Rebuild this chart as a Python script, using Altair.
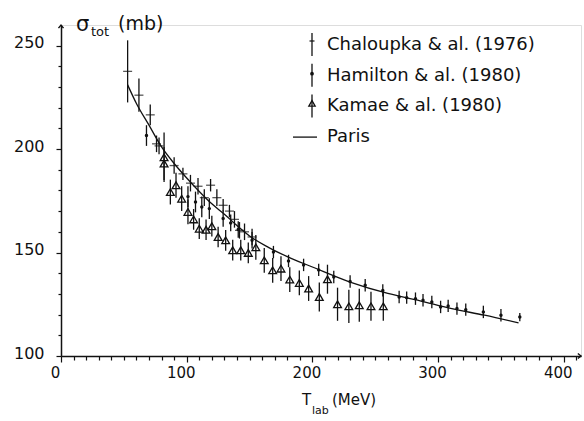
import altair as alt
import pandas as pd

# ---------------- data ----------------
# Chaloupka & al. (1976): T_lab (MeV), sigma_tot (mb), error (mb)
ch_T = [53, 62, 71, 76, 78, 90, 97, 103, 109, 114, 119, 124, 129, 134, 138, 142, 146, 152]
ch_s = [237.5, 226, 216.5, 202.5, 201.5, 192, 188, 183.5, 182, 176.5, 182.5, 176.5, 172.8, 170, 166, 160.7, 160, 157.5]
ch_e = [15, 8, 5, 4, 4, 4, 3, 4, 4, 4, 3, 4, 3, 3, 4, 4, 4, 4]

# Hamilton & al. (1980)
ham_T = [68, 101, 107, 112, 118, 129, 135, 141, 152, 169, 181, 193, 205, 217, 230, 242, 256,
         269, 275, 282, 288, 295, 302, 308, 315, 322, 336, 350, 365]
ham_s = [206.5, 177, 174.4, 172, 171.2, 166.4, 164.3, 161.1, 155.9, 150.2, 145.9, 144, 141.6, 138.2,
         136, 134.2, 131.7, 128.5, 128.2, 127.7, 126.9, 126.1, 123.7, 124.2, 122.9, 122.4, 121.3, 119.7, 118.8]
ham_e = [5, 5, 5, 5, 5, 4, 4, 4, 4, 3, 3, 3, 3, 3, 3, 3, 3, 3, 3, 3, 3, 3, 3, 3, 3, 3, 3, 3, 2]

# Kamae & al. (1980)
ka_T = [82, 82, 87, 91.5, 96, 101, 105.5, 110, 115.4, 120, 125, 131, 136.6, 143, 149, 155, 161.7,
        168.4, 175, 182, 189.6, 197, 205.5, 212, 220, 229, 237.3, 246.6, 256.4]
ka_s = [196, 193, 179.2, 182.5, 176, 169.6, 166, 161.5, 161, 162.7, 157.5, 155.9, 151.1, 151.1, 149.8,
        152.5, 146.2, 141.4, 142.2, 136.9, 135.3, 132.6, 128.5, 137.1, 125, 124, 124.5, 124, 124]
ka_e = [12, 8, 6, 6, 6, 6, 5, 5, 5, 5, 5, 5, 5, 5, 5, 6, 6, 6, 6, 6, 6, 6, 7, 7, 8, 8, 8, 7, 7]

# Paris potential
pa_T = [53, 60, 70, 80, 90, 100, 110, 120, 130, 140, 150, 165, 180, 200, 230, 260, 285, 310, 337, 364]
pa_s = [231, 222, 211.5, 201, 193, 186, 179.5, 173.5, 168.5, 163, 158, 152.5, 148, 143, 135.7, 130.2,
        126.8, 123, 119.7, 116]

legend_labels = ["Chaloupka & al. (1976)", "Hamilton & al. (1980)", "Kamae & al. (1980)", "Paris"]

x_ticks = list(range(0, 411, 10))
y_ticks = list(range(100, 251, 10))

# ---------------- layout ----------------
PL, PT, PR, PB = 61, 25, 3, 65
W, H = 584 - PL - PR, 421 - PT - PB
FONT = "DejaVu Sans"
INK = "#111111"

def px(v):
    return v - PL

def py(v):
    return v - PT

xs = alt.Scale(domain=[0, W / 1.257], nice=False, zero=False)
ys = alt.Scale(domain=[100, 100 + H / 2.07], nice=False, zero=False)

xaxis = alt.Axis(
    values=x_ticks, title=None, grid=False,
    labelExpr="datum.value % 100 === 0 ? datum.label : ''",
    tickSize={"condition": {"test": "datum.value % 100 === 0", "value": 6}, "value": 4},
    labelFont=FONT, labelFontSize=15, labelColor=INK, labelPadding=3, labelOffset=-6,
    domainColor=INK, domainWidth=1.5, tickColor=INK, tickWidth=1.2, labelFlush=False,
)
yaxis = alt.Axis(
    values=y_ticks, title=None, grid=False,
    labelExpr="datum.value % 50 === 0 ? datum.label : ''",
    tickSize={"condition": {"test": "datum.value % 50 === 0", "value": 5}, "value": 3},
    labelFont=FONT, labelFontSize=16, labelColor=INK, labelPadding=12, labelOffset=-3,
    domainColor=INK, domainWidth=1.5, tickColor=INK, tickWidth=1.2, labelFlush=False,
)

def X(f="T"):
    return alt.X(f"{f}:Q", scale=xs, axis=xaxis)

def Y(f="s"):
    return alt.Y(f"{f}:Q", scale=ys, axis=yaxis)

ch = pd.DataFrame({"T": ch_T, "s": ch_s, "e": ch_e})
ham = pd.DataFrame({"T": ham_T, "s": ham_s, "e": ham_e})
ka = pd.DataFrame({"T": ka_T, "s": ka_s, "e": ka_e})
pa = pd.DataFrame({"T": pa_T, "s": pa_s})
for d in (ch, ham, ka):
    d["lo"] = d["s"] - d["e"]
    d["hi"] = d["s"] + d["e"]

layers = []
layers.append(alt.Chart(pa).mark_line(color=INK, strokeWidth=1.3, interpolate="monotone")
              .encode(x=X(), y=Y()))
for d in (ch, ham, ka):
    layers.append(alt.Chart(d).mark_rule(color=INK, strokeWidth=1.3)
                  .encode(x=X(), y=Y("lo"), y2="hi:Q"))
layers.append(alt.Chart(ch).mark_tick(orient="horizontal", color=INK, size=9, thickness=1.3)
              .encode(x=X(), y=Y()))
layers.append(alt.Chart(ham).mark_circle(color=INK, size=12, opacity=1)
              .encode(x=X(), y=Y()))
layers.append(alt.Chart(ka).mark_point(shape="triangle-up", filled=False, color=INK, size=60,
                                       strokeWidth=1.3, opacity=1)
              .encode(x=X(), y=Y()))

one = pd.DataFrame({"a": [0]})
# axis arrow heads
layers.append(alt.Chart(one).mark_point(shape="M-1,-0.8L0,0L-1,0.8", filled=False, color=INK,
                                        size=40, strokeWidth=1.4, opacity=1)
              .encode(x=alt.value(W), y=alt.value(H)))
layers.append(alt.Chart(one).mark_point(shape="M-0.8,1L0,0L0.8,1", filled=False, color=INK,
                                        size=40, strokeWidth=1.4, opacity=1)
              .encode(x=alt.value(0), y=alt.value(0)))

# ---------------- legend ----------------
LX_SYM, LX_TXT, LY0, LDY = 312, 327, 45, 30.7
for i, lab in enumerate(legend_labels):
    cy = LY0 + i * LDY
    layers.append(alt.Chart(pd.DataFrame({"t": [lab]})).mark_text(
        align="left", baseline="middle", font=FONT, fontSize=18, color=INK)
        .encode(x=alt.value(px(LX_TXT)), y=alt.value(py(cy)), text="t:N"))
    if i < 3:
        layers.append(alt.Chart(one).mark_rule(color=INK, strokeWidth=1.3)
                      .encode(x=alt.value(px(LX_SYM)), y=alt.value(py(cy - 12)),
                              y2=alt.value(py(cy + 11))))
    if i == 0:
        layers.append(alt.Chart(one).mark_rule(color=INK, strokeWidth=1.2)
                      .encode(x=alt.value(px(LX_SYM - 2.5)), x2=alt.value(px(LX_SYM + 2.5)),
                              y=alt.value(py(cy - 4))))
    elif i == 1:
        layers.append(alt.Chart(one).mark_circle(color=INK, size=14, opacity=1)
                      .encode(x=alt.value(px(LX_SYM)), y=alt.value(py(cy - 2))))
    elif i == 2:
        layers.append(alt.Chart(one).mark_point(shape="triangle-up", filled=False, color=INK,
                                                size=40, strokeWidth=1.3, opacity=1)
                      .encode(x=alt.value(px(LX_SYM)), y=alt.value(py(cy - 3))))
    else:
        layers.append(alt.Chart(one).mark_rule(color=INK, strokeWidth=1.3)
                      .encode(x=alt.value(px(293)), x2=alt.value(px(317)), y=alt.value(py(cy))))

# ---------------- axis titles ----------------
def txt(s, x, y, size, align="left"):
    return (alt.Chart(pd.DataFrame({"t": [s]}))
            .mark_text(align=align, baseline="middle", font=FONT, fontSize=size, color=INK)
            .encode(x=alt.value(px(x)), y=alt.value(py(y)), text="t:N"))

layers.append(txt("σ", 76, 25, 21))
layers.append(txt("tot", 91, 32, 13))
layers.append(txt("(mb)", 118, 24, 19))
layers.append(txt("T", 302, 400, 15))
layers.append(txt("lab", 312, 411, 11))
layers.append(txt("(MeV)", 332, 400, 15))

chart = (alt.layer(*layers)
         .properties(width=W, height=H, autosize="none",
                     padding={"left": PL, "top": PT, "right": PR, "bottom": PB})
         .configure_view(stroke=None)
         .configure(background="white"))

chart.save("out.html", embed_options={"renderer": "svg", "actions": False})
